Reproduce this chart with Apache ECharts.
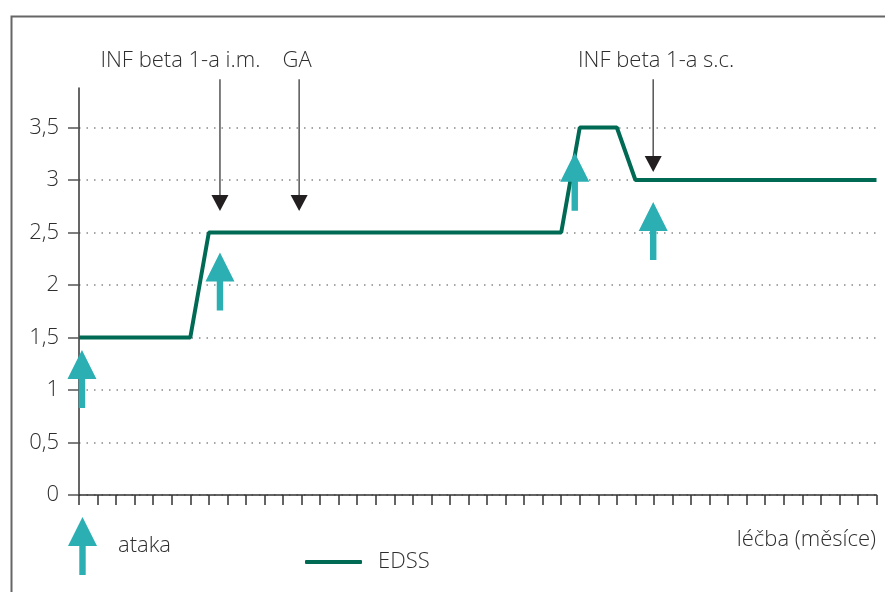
<!DOCTYPE html>
<html>
<head>
<meta charset="utf-8">
<script src="https://cdn.jsdelivr.net/npm/echarts@6/dist/echarts.min.js"></script>
<style>
html,body{margin:0;padding:0;background:#fff;}
#chart{width:885px;height:592px;}
</style>
</head>
<body>
<div id="chart"></div>
<script>
// EDSS course (x = months, y = EDSS)
const edssX = [0, 6, 7, 26, 27, 29, 30, 43];
const edssY = [1.5, 1.5, 2.5, 2.5, 3.5, 3.5, 3, 3];
// attacks (arrow tip positions)
const attackX = [0.16, 7.6, 26.73, 30.96];
const attackTipY = [1.38, 2.31, 3.26, 2.79];
// treatment annotations
const annotLabels = ['INF beta 1-a i.m.', 'GA', 'INF beta 1-a s.c.'];
const annotX = [7.6, 11.87, 30.96];
const annotTipY = [2.705, 2.705, 3.076];
const annotTopY = [3.96, 3.96, 3.96];
const annotLabelX = [5.47, 11.76, 31.12];
const annotLabelY = [4.14, 4.14, 4.14];
// axis ticks
const yTicks = [0, 0.5, 1, 1.5, 2, 2.5, 3, 3.5];
const xMax = 43;
const yMax = 3.876;

const FONT = '"Open Sans", "Noto Sans", sans-serif';
const FW = 300;
const FS = 22;
const TEXT = '#2e2e2e';
const arrowPath = 'path://M14.5 0 L29 29 L17.7 29 L17.7 58 L11.3 58 L11.3 29 L0 29 Z';

const chart = echarts.init(document.getElementById('chart'));
chart.setOption({
  backgroundColor: '#ffffff',
  animation: false,
  textStyle: { fontFamily: FONT },
  title: {
    text: 'léčba (měsíce)', right: 9, top: 529, padding: 0,
    textStyle: { fontFamily: FONT, fontSize: FS, fontWeight: FW, color: TEXT }
  },
  graphic: [{
    type: 'rect', left: 9, top: 14, silent: true,
    shape: { width: 1000, height: 1000 },
    style: { fill: 'none', stroke: '#666666', lineWidth: 2 }
  }],
  legend: [{
    left: 68, top: 517, itemWidth: 29, itemHeight: 58, padding: 0,
    selectedMode: false,
    data: [{ name: 'ataka', icon: arrowPath }],
    textStyle: { fontFamily: FONT, fontSize: FS, fontWeight: FW, color: TEXT, padding: [0, 0, 6, 16] }
  }, {
    left: 305, top: 551, itemWidth: 57, itemHeight: 4, padding: 0,
    selectedMode: false,
    data: [{ name: 'EDSS', icon: 'roundRect' }],
    textStyle: { fontFamily: FONT, fontSize: FS, fontWeight: FW, color: TEXT, padding: [0, 0, 0, 11] }
  }],
  grid: { left: 79, right: 8.5, top: 88, bottom: 97, containLabel: false },
  xAxis: {
    type: 'value', min: 0, max: xMax, interval: 1,
    axisLine: { lineStyle: { color: '#333', width: 1.5 } },
    axisTick: { show: true, length: 10, lineStyle: { color: '#333', width: 1.5 } },
    axisLabel: { show: false },
    splitLine: { show: false }
  },
  yAxis: {
    type: 'value', min: 0, max: yMax,
    axisLine: { show: true, lineStyle: { color: '#333', width: 1.5 } },
    axisTick: { show: true, length: 11, customValues: yTicks, lineStyle: { color: '#555', width: 1.5 } },
    axisLabel: {
      customValues: yTicks, margin: 20, fontSize: FS, fontWeight: FW, color: TEXT, fontFamily: FONT,
      formatter: v => String(v).replace('.', ',')
    },
    splitLine: { show: true, lineStyle: { color: '#888', width: 1.5, type: [1.5, 6] } }
  },
  series: [{
    name: 'EDSS', type: 'line', symbol: 'none', z: 3,
    data: edssX.map((x, i) => [x, edssY[i]]),
    lineStyle: { color: '#006a55', width: 4 },
    itemStyle: { color: '#006a55' }
  }, {
    name: 'ataka', type: 'scatter', z: 4, silent: true,
    symbol: arrowPath, symbolSize: [29, 58], symbolOffset: [0, '50%'],
    itemStyle: { color: '#2bafb2', opacity: 1 },
    data: attackX.map((x, i) => [x, attackTipY[i]])
  }, {
    name: 'annot', type: 'custom', z: 5, silent: true, clip: false,
    encode: { x: 0, y: 1 },
    data: annotX.map((x, i) => [x, annotTipY[i], annotTopY[i], annotLabelX[i], annotLabelY[i]]),
    renderItem: function (params, api) {
      const tip = api.coord([api.value(0), api.value(1)]);
      const top = api.coord([api.value(0), api.value(2)]);
      const lab = api.coord([api.value(3), api.value(4)]);
      return {
        type: 'group',
        children: [{
          type: 'line',
          shape: { x1: tip[0], y1: top[1], x2: tip[0], y2: tip[1] - 12 },
          style: { stroke: '#555', lineWidth: 1.5 }
        }, {
          type: 'polygon',
          shape: { points: [[tip[0] - 8.5, tip[1] - 16], [tip[0] + 8.5, tip[1] - 16], [tip[0], tip[1]]] },
          style: { fill: '#231f20' }
        }, {
          type: 'text', x: lab[0], y: lab[1],
          style: {
            text: annotLabels[params.dataIndex], fill: TEXT,
            font: FW + ' ' + FS + 'px ' + FONT, align: 'center', verticalAlign: 'middle'
          }
        }]
      };
    }
  }]
});
</script>
</body>
</html>
